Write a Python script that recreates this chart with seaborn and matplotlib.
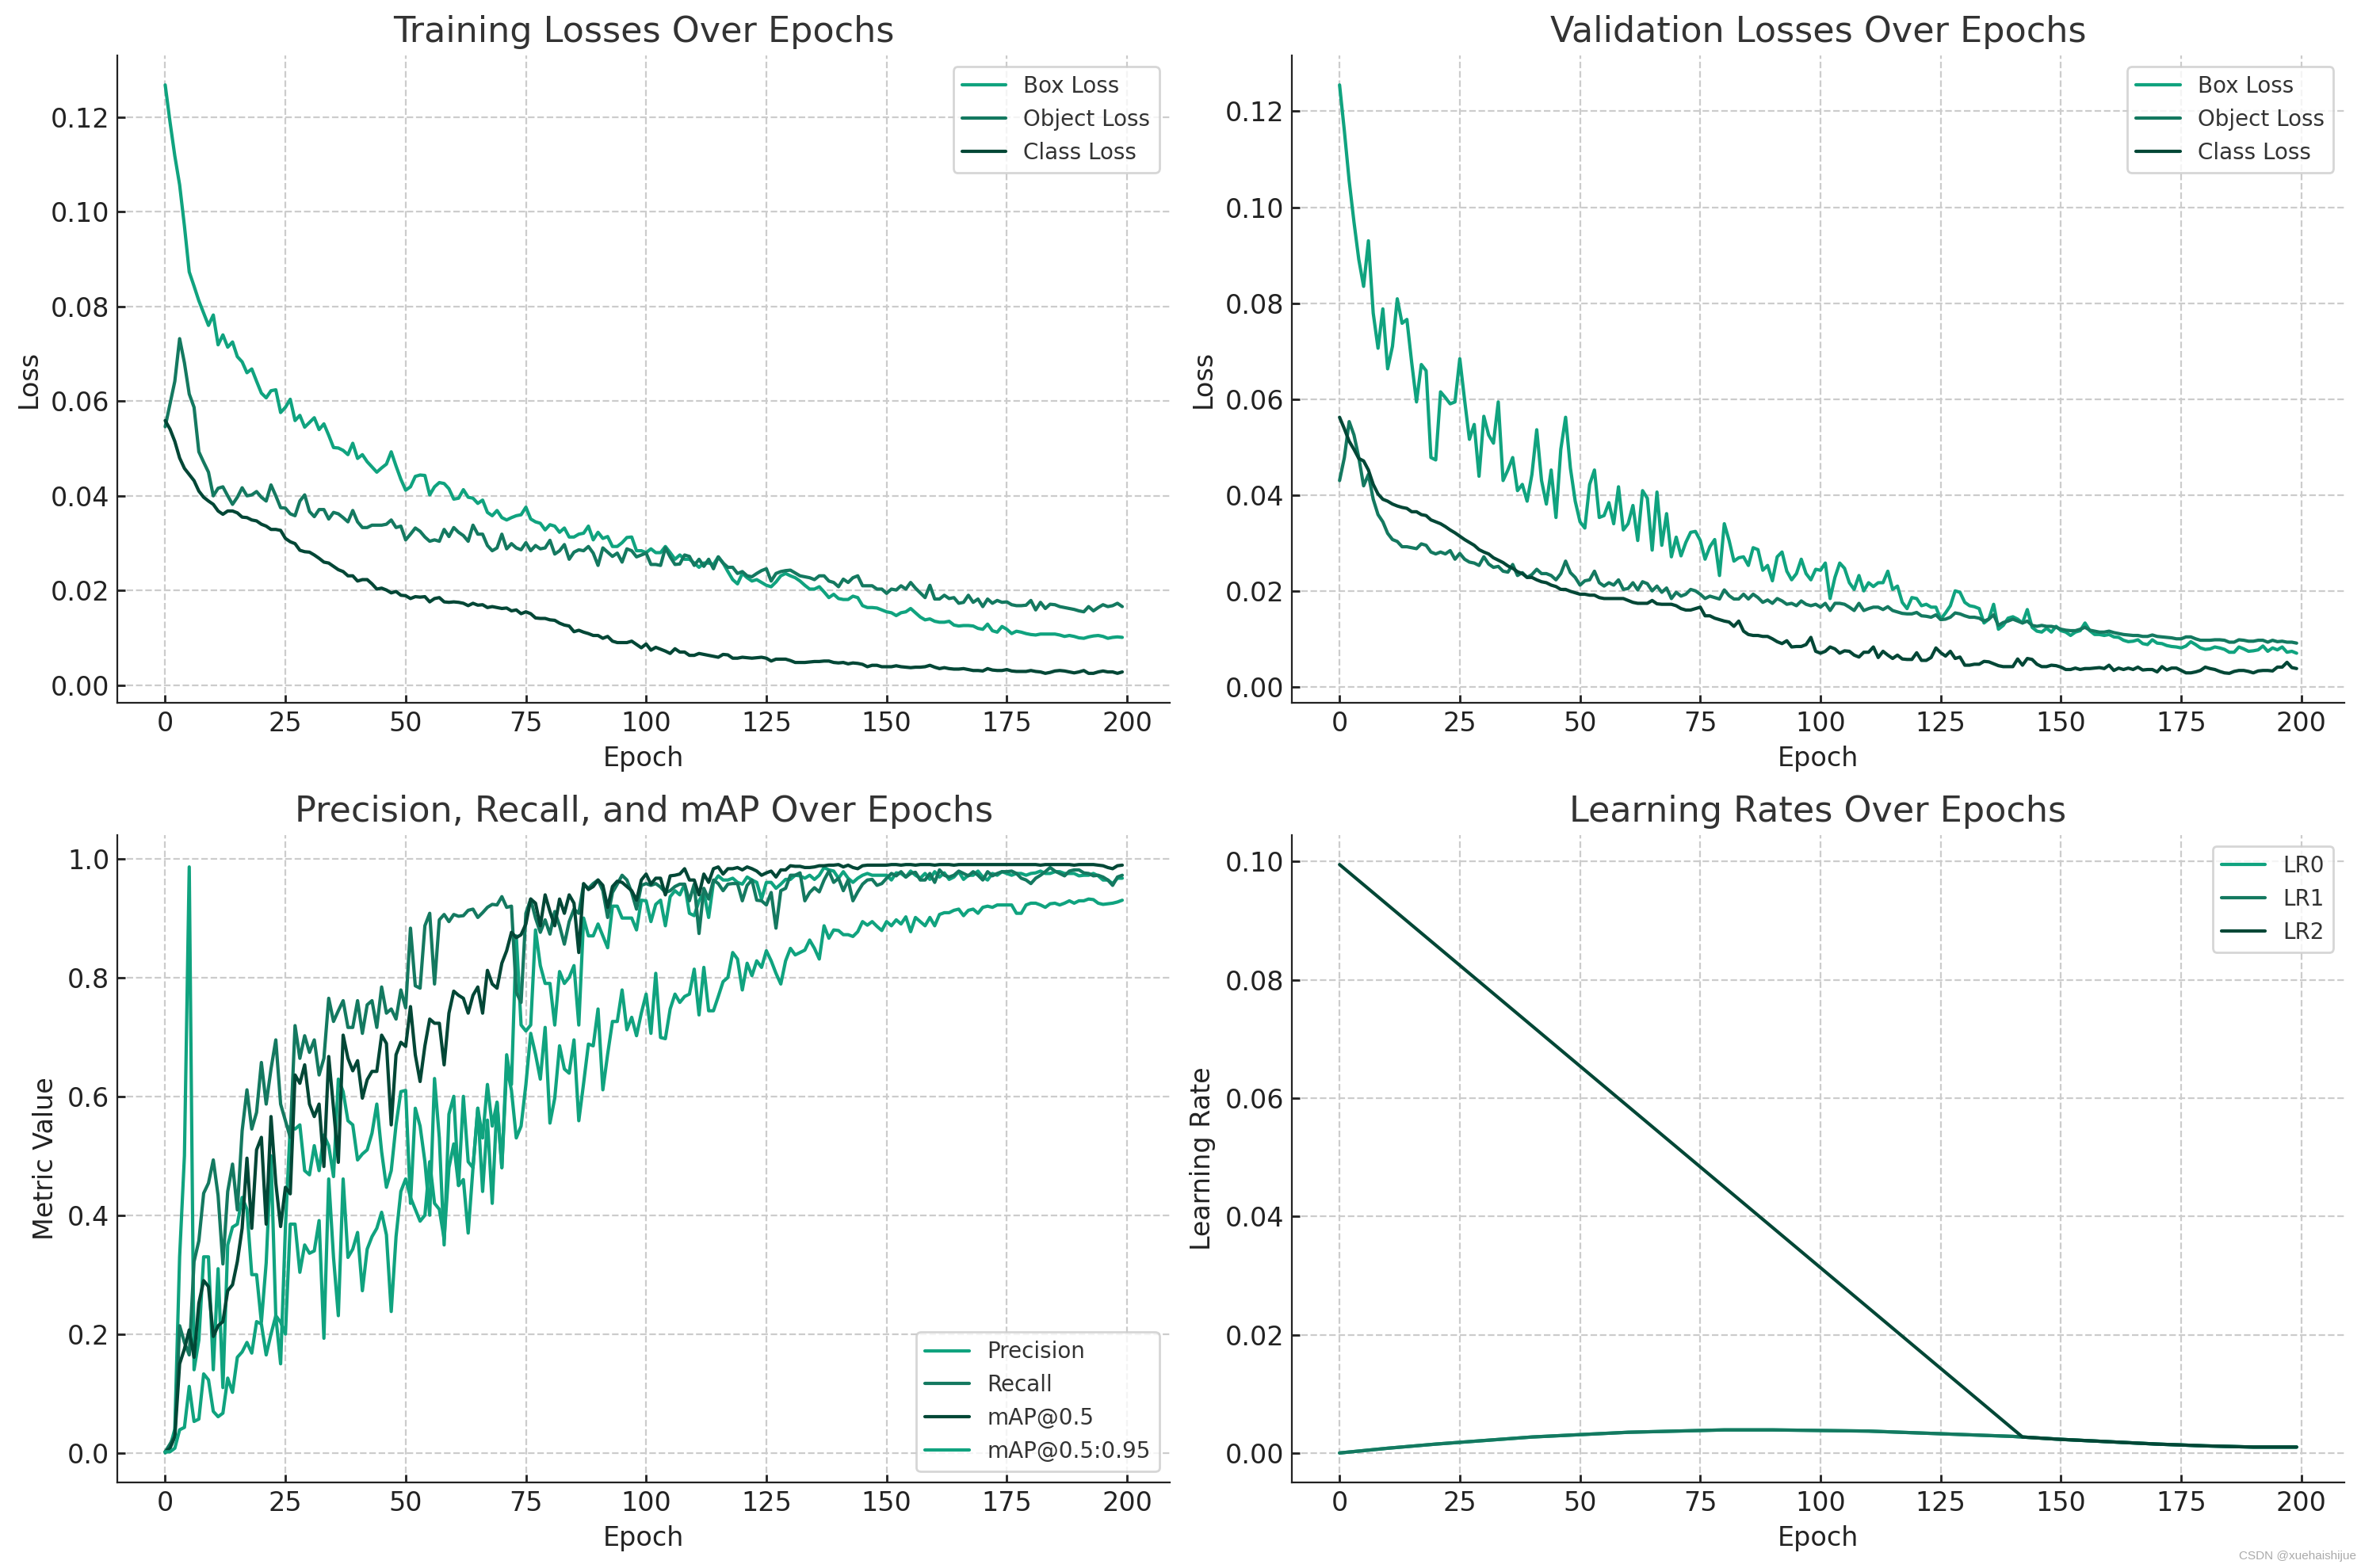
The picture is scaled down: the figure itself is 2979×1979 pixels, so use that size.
import numpy as np
import matplotlib
matplotlib.use("Agg")
import matplotlib.pyplot as plt
import seaborn as sns

# ---- losses (epochs 0..199) ----
train_box = [
    .1268, .119, .1118, .1057, .097, .0873, .0843, .0812, .0786, .076,
    .0782, .0719, .074, .0714, .0725, .0694, .0683, .066, .0668, .0642,
    .0617, .0607, .0622, .0624, .0576, .0587, .0604, .0559, .057, .0545,
    .0555, .0565, .054, .0552, .0528, .0502, .0501, .0496, .0487, .0511,
    .0479, .0487, .0472, .0461, .045, .0459, .0467, .0493, .0463, .0435,
    .0412, .0419, .0441, .0444, .0443, .0402, .0419, .0428, .0426, .0415,
    .0393, .0395, .0413, .0397, .0395, .0384, .0391, .0365, .0358, .0369,
    .0354, .0349, .0354, .0358, .036, .0376, .0351, .0345, .0342, .0328,
    .0339, .0336, .0323, .0332, .0313, .0313, .0319, .0321, .0336, .0307,
    .0323, .031, .0314, .0293, .0293, .0301, .0312, .0313, .0284, .0284,
    .028, .0288, .028, .028, .0293, .028, .0266, .0275, .0266, .0266,
    .0258, .0249, .0258, .0258, .0255, .0271, .0258, .024, .0223, .0214,
    .0236, .0227, .022, .0223, .0217, .0211, .0208, .0218, .0231, .0236,
    .0231, .0227, .022, .0211, .0203, .0203, .0208, .0197, .0185, .0192,
    .0183, .0181, .0181, .0188, .0185, .0168, .0164, .0164, .0163, .0159,
    .0155, .0153, .0147, .0153, .0155, .0162, .0153, .0144, .0138, .014,
    .0135, .0133, .0133, .0135, .0127, .0125, .0126, .0126, .0125, .012,
    .0118, .0129, .0115, .0112, .0124, .0118, .0109, .0114, .0112, .0109,
    .0107, .0106, .0108, .0108, .0108, .0108, .0106, .0103, .0105, .0103,
    .01, .0099, .0102, .0104, .0105, .0103, .0099, .0101, .0102, .0101,
]
train_obj = [
    .0546, .0594, .0642, .0732, .0681, .0615, .0587, .0493, .0471, .045,
    .04, .0416, .0419, .04, .0382, .0397, .0417, .04, .0402, .0409,
    .0397, .0389, .0423, .04, .0375, .0374, .0362, .0358, .0389, .0402,
    .0367, .0356, .0371, .0371, .0351, .0365, .0362, .0354, .0345, .0369,
    .0345, .0333, .0333, .0338, .0338, .0338, .034, .0349, .0333, .0336,
    .0307, .0319, .0332, .0325, .0313, .0304, .0307, .0304, .0329, .0314,
    .0333, .0323, .0316, .0304, .0338, .0319, .0319, .0295, .0284, .029,
    .0319, .0288, .0299, .029, .0286, .0301, .0284, .0295, .0288, .029,
    .0306, .0277, .0284, .0297, .0266, .0281, .0286, .0284, .0293, .0279,
    .0253, .029, .0281, .0272, .0279, .026, .0288, .0284, .0271, .0275,
    .0279, .0255, .0255, .0253, .029, .0271, .0255, .0256, .0275, .0272,
    .0253, .0266, .0251, .0266, .0246, .0271, .0258, .0249, .0249, .0236,
    .024, .0231, .0229, .0236, .0242, .0246, .022, .0236, .024, .0242,
    .0243, .0237, .0231, .0229, .0227, .0223, .0231, .0231, .022, .0217,
    .0208, .0224, .0217, .0227, .0231, .021, .021, .021, .0203, .0203,
    .0194, .0203, .0201, .021, .0203, .0217, .0205, .0195, .0185, .0211,
    .0182, .0182, .019, .0183, .0185, .0173, .0175, .019, .0175, .0182,
    .0166, .0182, .0173, .0179, .0175, .0176, .017, .0168, .0168, .0169,
    .0179, .0159, .0175, .0162, .0171, .017, .0166, .0164, .0162, .016,
    .0157, .0155, .0166, .0157, .0164, .017, .0166, .0168, .0173, .0166,
]
train_cls = [
    .0559, .0541, .0515, .048, .0458, .0445, .0432, .041, .0397, .0389,
    .0382, .0368, .0361, .0368, .0368, .0364, .0355, .0354, .0349, .0347,
    .034, .0336, .0329, .0329, .0327, .031, .0303, .0299, .0285, .0282,
    .0281, .0275, .0268, .026, .0258, .0251, .0244, .024, .0231, .0231,
    .022, .0223, .0223, .0214, .0203, .0205, .0201, .0195, .0198, .019,
    .0189, .0183, .0187, .0186, .0187, .0176, .0183, .0185, .0176, .0175,
    .0176, .0175, .0173, .0168, .0173, .0169, .017, .0164, .0166, .0164,
    .0162, .0163, .0157, .0159, .0151, .0155, .0151, .0142, .0141, .0141,
    .0138, .0137, .0131, .0127, .0125, .0113, .0116, .0112, .0109, .0105,
    .0105, .0099, .0103, .0093, .009, .009, .009, .0093, .0086, .0079,
    .0087, .0074, .008, .0076, .0072, .0067, .0077, .007, .007, .0063,
    .0063, .0067, .0065, .0063, .0061, .0059, .0065, .0064, .0057, .0057,
    .0059, .0058, .0057, .0058, .0059, .0057, .0051, .0055, .0055, .0055,
    .0052, .0048, .0048, .0048, .0049, .005, .005, .0051, .0051, .0048,
    .0047, .0048, .0045, .0047, .0046, .0044, .0039, .0042, .0042, .0039,
    .0039, .0039, .0041, .0039, .0038, .0037, .0038, .0038, .0039, .0042,
    .0038, .0035, .0037, .0035, .0034, .0034, .0035, .0033, .0031, .0031,
    .003, .0035, .0032, .0031, .0031, .0033, .003, .0029, .0029, .0029,
    .0031, .0029, .0028, .0025, .0027, .003, .0031, .003, .0028, .0026,
    .0028, .0031, .0025, .0025, .0028, .003, .0028, .0028, .0025, .0028,
]
val_box = [
    .1255, .1159, .1055, .0969, .0891, .0835, .093, .0779, .0706, .0788,
    .0663, .071, .0809, .0758, .0766, .0676, .0594, .0672, .0659, .0478,
    .0473, .0615, .0603, .059, .0594, .0684, .0598, .0516, .0547, .0439,
    .0564, .0525, .0508, .0594, .043, .0452, .0478, .0409, .0422, .0387,
    .0443, .0536, .043, .0381, .0452, .0353, .0495, .0562, .0456, .0387,
    .0344, .0331, .0422, .0452, .0353, .0357, .0384, .034, .0417, .0327,
    .034, .0378, .0305, .0409, .0393, .0285, .0406, .0295, .0361, .0271,
    .0312, .0273, .0301, .0322, .0324, .0305, .0266, .0292, .0307, .0232,
    .034, .0305, .0262, .0269, .0271, .0253, .029, .0286, .0243, .0253,
    .0221, .0271, .0281, .0241, .0223, .0236, .0266, .0236, .0223, .0245,
    .0243, .0258, .0184, .0228, .0258, .0247, .0217, .0203, .0232, .02,
    .0217, .0209, .0217, .0217, .0241, .0203, .021, .0176, .0163, .0186,
    .0184, .0169, .0172, .0166, .0166, .0141, .0154, .0169, .02, .0197,
    .0176, .0169, .0167, .0163, .0133, .0141, .0172, .012, .0128, .0143,
    .0146, .0141, .0133, .0161, .0124, .0116, .0114, .0122, .0114, .0126,
    .0117, .0114, .0107, .0114, .0117, .0133, .0117, .0109, .0109, .0107,
    .0109, .0104, .0103, .0097, .0094, .0095, .0098, .009, .0088, .0098,
    .0091, .009, .0086, .0084, .0083, .0081, .0085, .0094, .0088, .0081,
    .0078, .0079, .0083, .0081, .0078, .0072, .0072, .0083, .0079, .0074,
    .0075, .0077, .0085, .0074, .0081, .0077, .0083, .0072, .0074, .007,
]
val_obj = [
    .043, .0478, .0553, .0525, .0478, .0419, .0443, .0391, .0359, .0344,
    .032, .0307, .0303, .0292, .0292, .029, .0288, .0298, .0295, .0281,
    .0277, .0281, .0277, .0284, .0266, .0278, .0266, .026, .0258, .0253,
    .0271, .0256, .0249, .0251, .0241, .0239, .0255, .0232, .0238, .0228,
    .0234, .0245, .0236, .0236, .0232, .0223, .0236, .0262, .0238, .0228,
    .0212, .0221, .0223, .0241, .0217, .021, .0217, .0212, .0223, .0203,
    .0205, .0217, .0202, .0219, .0215, .02, .021, .0197, .0206, .0184,
    .0197, .0189, .0193, .0203, .02, .0193, .0184, .0189, .0186, .0183,
    .0202, .019, .0183, .0183, .0193, .0183, .0193, .0186, .0176, .0181,
    .0174, .0184, .0179, .0172, .0174, .0169, .0179, .0172, .0169, .0172,
    .0166, .0174, .0159, .0174, .0174, .0172, .0166, .0159, .0174, .0159,
    .0163, .0166, .0166, .0161, .0167, .0159, .0156, .0153, .0152, .0152,
    .0155, .0148, .0147, .0145, .015, .014, .0141, .0145, .0154, .0152,
    .0148, .0145, .0145, .0143, .0137, .0141, .015, .0128, .0134, .0137,
    .0141, .0137, .0133, .0137, .0128, .0126, .0128, .0126, .0126, .0124,
    .012, .0118, .0117, .0117, .012, .0124, .0118, .0116, .0114, .0114,
    .0116, .0113, .0111, .0109, .0108, .0107, .0107, .0105, .0105, .0108,
    .0105, .0104, .0103, .0102, .01, .01, .0104, .0104, .01, .0097,
    .0097, .0097, .0098, .0098, .0097, .0093, .0093, .0098, .0097, .0095,
    .0095, .0097, .0097, .0093, .0097, .0094, .0095, .0093, .0093, .0091,
]
val_cls = [
    .0562, .0538, .0512, .0495, .0476, .0471, .0452, .0422, .0402, .0391,
    .0387, .0381, .0377, .0374, .0372, .0365, .0365, .0359, .0357, .0348,
    .0344, .034, .0334, .0327, .0321, .0314, .0307, .0301, .0295, .0286,
    .0281, .0277, .0269, .0264, .0259, .0252, .0247, .024, .0236, .0228,
    .0228, .0223, .0219, .0217, .0212, .0209, .0203, .0203, .0199, .0196,
    .0193, .0193, .0191, .0191, .0186, .0184, .0184, .0184, .0184, .0184,
    .018, .0176, .0174, .0174, .0174, .018, .0173, .0172, .0172, .0172,
    .0169, .0163, .016, .016, .0163, .0166, .0148, .0148, .0143, .014,
    .0137, .0135, .0126, .0137, .0116, .0109, .0107, .0107, .0105, .0105,
    .01, .0094, .009, .0096, .0083, .0084, .0084, .0088, .0103, .0074,
    .007, .0074, .0083, .0079, .007, .0075, .0074, .0066, .0062, .0072,
    .0072, .0083, .0061, .0074, .0066, .0059, .0066, .0058, .0057, .0057,
    .0071, .0055, .0055, .0061, .0081, .0071, .0064, .0074, .0059, .0062,
    .0045, .0045, .0047, .0047, .0053, .0052, .0048, .0044, .0042, .0042,
    .0042, .0058, .0045, .0059, .0057, .0047, .0042, .0042, .0045, .0044,
    .0041, .0036, .0036, .0039, .0036, .0038, .0038, .0039, .004, .0038,
    .0045, .0034, .0039, .0036, .0039, .0036, .0041, .0035, .0036, .0036,
    .0031, .0042, .0035, .0039, .0039, .0034, .0029, .0029, .0031, .0034,
    .0041, .0038, .0036, .0032, .0029, .0028, .0032, .0034, .0034, .0032,
    .0029, .0033, .0034, .0034, .0033, .0041, .0041, .0051, .004, .0038,
]

# ---- metrics ----
precision = [
    .0, .01, .04, .33, .50, .986, .14, .19, .33, .33,
    .14, .31, .11, .35, .38, .385, .43, .41, .30, .30,
    .22, .32, .50, .23, .15, .38, .55, .545, .552, .475,
    .468, .517, .475, .535, .517, .465, .629, .608, .559, .552,
    .493, .503, .51, .538, .587, .507, .447, .475, .552, .608,
    .61, .42, .58, .55, .49, .40, .63, .53, .35, .57,
    .60, .45, .60, .49, .48, .58, .44, .56, .42, .59,
    .48, .67, .62, .87, .72, .71, .72, .88, .82, .79,
    .79, .72, .81, .79, .80, .82, .72, .90, .87, .87,
    .89, .87, .85, .92, .92, .90, .90, .90, .88, .93,
    .929, .894, .923, .93, .887, .936, .946, .939, .957, .908,
    .904, .929, .943, .901, .96, .971, .964, .964, .967, .96,
    .957, .969, .964, .96, .932, .96, .96, .95, .957, .965,
    .965, .972, .971, .967, .972, .965, .972, .985, .981, .979,
    .967, .978, .967, .96, .967, .972, .975, .972, .972, .972,
    .972, .964, .976, .975, .969, .979, .972, .967, .975, .965,
    .978, .969, .976, .965, .969, .978, .965, .972, .972, .979,
    .969, .964, .975, .972, .978, .975, .972, .975, .975, .972,
    .975, .976, .979, .975, .975, .978, .978, .975, .975, .975,
    .971, .972, .972, .975, .971, .964, .964, .958, .967, .967,
]
recall = [
    .002, .015, .029, .214, .186, .165, .322, .357, .437, .454,
    .493, .433, .318, .44, .486, .409, .542, .611, .545, .573,
    .657, .587, .646, .695, .587, .559, .531, .719, .664, .702,
    .674, .695, .636, .664, .765, .726, .744, .761, .716, .716,
    .761, .706, .754, .761, .716, .784, .74, .747, .73, .779,
    .749, .883, .786, .782, .887, .908, .789, .897, .906, .894,
    .906, .903, .904, .913, .915, .901, .909, .918, .923, .922,
    .936, .918, .92, .775, .758, .908, .932, .9, .876, .897,
    .873, .911, .887, .856, .894, .915, .908, .957, .95, .958,
    .964, .946, .901, .943, .957, .972, .964, .943, .915, .955,
    .958, .955, .958, .952, .943, .946, .953, .957, .957, .929,
    .957, .874, .95, .932, .964, .958, .946, .957, .958, .958,
    .929, .955, .964, .93, .929, .922, .943, .883, .946, .95,
    .972, .972, .976, .929, .943, .951, .944, .964, .979, .96,
    .967, .946, .964, .929, .944, .957, .964, .965, .955, .958,
    .967, .975, .971, .978, .969, .975, .977, .964, .964, .975,
    .96, .981, .972, .969, .972, .979, .975, .971, .978, .972,
    .964, .978, .971, .975, .978, .978, .979, .975, .967, .964,
    .958, .967, .972, .978, .985, .979, .975, .971, .979, .981,
    .981, .976, .975, .971, .972, .969, .964, .955, .969, .972,
]
map50 = [
    .002, .008, .027, .15, .175, .207, .161, .252, .29, .28,
    .196, .214, .221, .273, .283, .322, .378, .496, .378, .51,
    .531, .385, .566, .454, .381, .447, .436, .636, .622, .653,
    .587, .566, .587, .482, .667, .58, .489, .703, .664, .643,
    .66, .597, .628, .642, .642, .703, .689, .552, .67, .691,
    .684, .751, .67, .625, .685, .73, .723, .723, .653, .74,
    .777, .77, .765, .74, .77, .784, .74, .812, .789, .782,
    .824, .845, .876, .867, .872, .89, .932, .925, .887, .939,
    .911, .887, .932, .908, .939, .925, .842, .958, .948, .953,
    .964, .955, .918, .953, .962, .96, .953, .946, .93, .964,
    .974, .957, .967, .967, .939, .971, .972, .974, .983, .964,
    .964, .939, .974, .96, .983, .986, .974, .983, .983, .985,
    .981, .986, .983, .979, .972, .976, .979, .969, .981, .981,
    .988, .987, .987, .985, .985, .986, .988, .988, .989, .989,
    .99, .986, .989, .985, .983, .988, .989, .989, .989, .989,
    .989, .99, .99, .989, .99, .99, .989, .99, .99, .99,
    .989, .99, .99, .99, .989, .99, .99, .99, .99, .99,
    .99, .99, .99, .99, .99, .99, .99, .99, .99, .99,
    .99, .99, .989, .99, .99, .99, .99, .99, .99, .989,
    .99, .99, .99, .99, .989, .988, .985, .983, .988, .989,
]
map50_95 = [
    .002, .002, .008, .039, .043, .112, .053, .057, .133, .123,
    .07, .061, .067, .126, .102, .161, .17, .186, .168, .221,
    .217, .165, .20, .231, .22, .20, .385, .385, .304, .35,
    .336, .34, .391, .193, .461, .329, .231, .461, .329, .343,
    .371, .273, .343, .364, .378, .405, .367, .238, .364, .44,
    .461, .43, .41, .39, .40, .49, .42, .41, .36, .48,
    .52, .45, .46, .37, .48, .58, .53, .62, .55, .59,
    .48, .65, .61, .53, .55, .62, .706, .671, .629, .716,
    .555, .597, .685, .646, .639, .695, .559, .622, .688, .685,
    .747, .611, .671, .726, .726, .779, .712, .733, .702, .74,
    .772, .706, .807, .699, .697, .747, .772, .758, .768, .772,
    .814, .737, .817, .744, .744, .768, .793, .80, .842, .831,
    .779, .824, .803, .828, .817, .845, .828, .807, .789, .828,
    .849, .838, .842, .846, .863, .849, .831, .887, .866, .88,
    .879, .872, .872, .869, .877, .894, .888, .894, .886, .879,
    .894, .887, .897, .89, .902, .877, .901, .894, .887, .901,
    .887, .906, .909, .909, .913, .915, .904, .913, .915, .908,
    .918, .92, .918, .922, .922, .922, .922, .908, .908, .922,
    .925, .925, .922, .918, .924, .925, .922, .925, .929, .925,
    .929, .929, .932, .931, .925, .923, .924, .925, .927, .93,
]

# ---- learning rates ----
lr_epochs = [0, 10, 20, 30, 40, 50, 60, 70, 80, 90, 100,
             110, 120, 130, 140, 150, 160, 170, 180, 190, 199]
lr0 = [0.0, .0008, .0015, .0021, .0027, .0031, .0035, .0037, .0039, .0039, .0038,
       .0037, .0034, .0031, .0028, .0023, .0019, .0015, .0012, .0010, .0010]
lr1 = [0.0, .0008, .0015, .0021, .0027, .0031, .0035, .0037, .0039, .0039, .0038,
       .0037, .0034, .0031, .0028, .0023, .0019, .0015, .0012, .0010, .0010]
lr2_epochs = [0, 142, 150, 160, 170, 180, 190, 199]
lr2 = [0.0995, .0027, .0023, .0019, .0015, .0012, .0010, .0010]

colors = ["#10A37F", "#147960", "#024736"]

sns.set_style("ticks", {
    "axes.grid": True,
    "grid.linestyle": "--",
    "grid.color": "#cccccc",
    "xtick.direction": "in",
    "ytick.direction": "in",
    "axes.spines.top": False,
    "axes.spines.right": False,
    "axes.edgecolor": "#222222",
})
plt.rcParams["font.family"] = ["DejaVu Sans"]
plt.rcParams["text.color"] = "#333333"
plt.rcParams["axes.labelcolor"] = "#222222"
plt.rcParams["xtick.color"] = "#222222"
plt.rcParams["ytick.color"] = "#222222"

fig, axes = plt.subplots(2, 2, figsize=(14.895, 9.895), dpi=200)
fig.subplots_adjust(left=0.0497, right=0.993, bottom=0.0546, top=0.9646,
                    wspace=0.1155, hspace=0.2045)


def style_ax(ax, title, ylabel, loc):
    ax.set_title(title, fontsize=16, color="#333333")
    ax.set_xlabel("Epoch", fontsize=12)
    ax.set_ylabel(ylabel, fontsize=12)
    ax.tick_params(labelsize=12, length=3.5, width=1)
    ax.grid(True, linestyle="--", color="#cccccc", linewidth=0.8)
    ax.legend(loc=loc, fontsize=10, edgecolor="#cccccc")


def draw(ax, series, names, title, ylabel, loc):
    for i, (vals, name) in enumerate(zip(series, names)):
        sns.lineplot(x=np.arange(len(vals)), y=vals, ax=ax, color=colors[i % 3],
                     label=name, linewidth=1.5)
    style_ax(ax, title, ylabel, loc)


draw(axes[0, 0], [train_box, train_obj, train_cls],
     ["Box Loss", "Object Loss", "Class Loss"],
     "Training Losses Over Epochs", "Loss", "upper right")
draw(axes[0, 1], [val_box, val_obj, val_cls],
     ["Box Loss", "Object Loss", "Class Loss"],
     "Validation Losses Over Epochs", "Loss", "upper right")
draw(axes[1, 0], [precision, recall, map50, map50_95],
     ["Precision", "Recall", "mAP@0.5", "mAP@0.5:0.95"],
     "Precision, Recall, and mAP Over Epochs", "Metric Value", "lower right")

ax = axes[1, 1]
sns.lineplot(x=lr_epochs, y=lr0, ax=ax, color=colors[0], label="LR0", linewidth=1.5)
sns.lineplot(x=lr_epochs, y=lr1, ax=ax, color=colors[1], label="LR1", linewidth=1.5)
sns.lineplot(x=lr2_epochs, y=lr2, ax=ax, color=colors[2], label="LR2", linewidth=1.5)
style_ax(ax, "Learning Rates Over Epochs", "Learning Rate", "upper right")

fig.text(0.998, 0.004, "CSDN @xuehaishijue", ha="right", va="bottom",
         fontsize=5.5, color="#aaaaaa", family=["Liberation Sans", "DejaVu Sans"])

fig.savefig("out.png", dpi=200)
